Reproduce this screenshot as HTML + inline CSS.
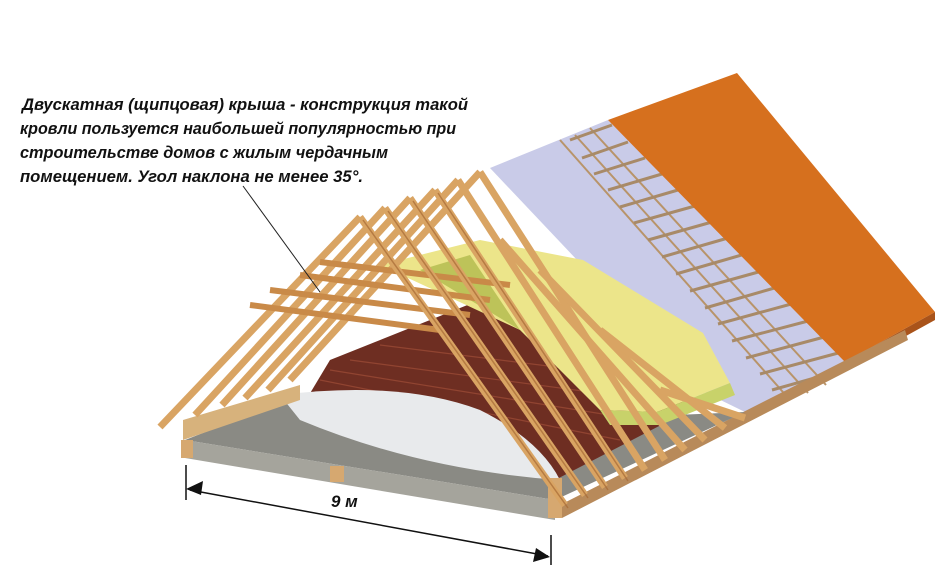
<!DOCTYPE html>
<html><head><meta charset="utf-8"><style>
html,body{margin:0;padding:0;background:#fff;width:947px;height:580px;overflow:hidden}
svg{display:block}
text{font-family:"Liberation Sans",sans-serif;font-weight:bold;font-style:italic;fill:#111}
</style></head><body>
<svg width="947" height="580" viewBox="0 0 947 580" xmlns="http://www.w3.org/2000/svg">
<!-- lavender membrane -->
<polygon points="490,168 608,120 850,362 770,405 745,412 700,390" fill="#c9cbe8"/>
<!-- grid laths -->
<g stroke="#b8946a" stroke-width="2">
<line x1="560" y1="140" x2="790" y2="400"/><line x1="575" y1="135" x2="808" y2="393"/><line x1="590" y1="128" x2="826" y2="385"/>
</g>
<g stroke="#a88a68" stroke-width="3">
<line x1="570" y1="140" x2="612" y2="125"/><line x1="582" y1="158" x2="628" y2="142"/><line x1="594" y1="174" x2="645" y2="158"/>
<line x1="608" y1="190" x2="662" y2="174"/><line x1="620" y1="207" x2="678" y2="190"/><line x1="634" y1="223" x2="695" y2="206"/>
<line x1="648" y1="240" x2="712" y2="222"/><line x1="662" y1="257" x2="728" y2="238"/><line x1="676" y1="274" x2="745" y2="254"/>
<line x1="690" y1="291" x2="762" y2="271"/><line x1="705" y1="308" x2="778" y2="287"/><line x1="718" y1="324" x2="795" y2="303"/>
<line x1="732" y1="341" x2="812" y2="320"/><line x1="746" y1="358" x2="828" y2="336"/><line x1="760" y1="374" x2="842" y2="352"/>
<line x1="772" y1="390" x2="850" y2="368"/>
</g>
<!-- orange roofing -->
<polygon points="608,120 737,73 935,312 845,362" fill="#d6701e"/>
<polygon points="845,362 935,312 935,320 848,368" fill="#a9531a"/>
<!-- eave board -->
<polygon points="560,505 905,330 908,340 562,518" fill="#b88a5a"/>
<!-- slab -->
<polygon points="185,440 300,395 560,420 745,412 555,500" fill="#8a8a84"/>
<polygon points="185,440 555,500 555,520 185,458" fill="#a5a49c"/>
<!-- dark attic interior -->
<polygon points="330,360 480,300 600,300 690,410 555,480 300,410" fill="#6e2e22"/>
<g stroke="#9a4a35" stroke-width="1.2" opacity=".8">
<line x1="320" y1="380" x2="620" y2="440"/><line x1="330" y1="370" x2="640" y2="420"/><line x1="350" y1="360" x2="650" y2="400"/><line x1="380" y1="345" x2="660" y2="380"/>
</g>
<!-- white foil -->
<path d="M280,395 Q400,380 480,410 Q540,440 560,480 Q420,470 300,420 Z" fill="#e8eaec"/>
<!-- yellow insulation -->
<polygon points="380,265 480,240 583,260 703,333 730,383 657,412 600,410 520,330" fill="#ece58a"/>
<polygon points="600,410 657,412 730,383 735,395 660,425 610,425" fill="#c8d26a"/>
<polygon points="420,270 470,255 520,330 470,300" fill="#a9b545" opacity=".7"/>
<!-- brick walls -->
<polygon points="183,420 300,385 300,400 183,440" fill="#d7b27c"/>
<rect x="181" y="440" width="12" height="18" fill="#d6a870"/>
<rect x="330" y="466" width="14" height="16" fill="#d6a870"/>
<rect x="548" y="478" width="14" height="40" fill="#d6a870"/>
<!-- rafters -->
<g stroke="#d9a463" stroke-width="7" stroke-linecap="butt">
<line x1="480" y1="172" x2="290" y2="380"/><line x1="458" y1="180" x2="268" y2="390"/>
<line x1="435" y1="190" x2="245" y2="398"/><line x1="410" y1="198" x2="222" y2="405"/>
<line x1="385" y1="208" x2="195" y2="415"/><line x1="360" y1="217" x2="160" y2="427"/>
</g>
<g stroke="#c98a48" stroke-width="6">
<line x1="250" y1="305" x2="440" y2="330"/><line x1="270" y1="290" x2="470" y2="315"/><line x1="300" y1="275" x2="490" y2="300"/><line x1="320" y1="262" x2="510" y2="285"/>
</g>
<g stroke="#d9a463" stroke-width="7">
<line x1="360" y1="217" x2="565" y2="505"/><line x1="385" y1="208" x2="585" y2="495"/>
<line x1="410" y1="198" x2="605" y2="487"/><line x1="435" y1="190" x2="625" y2="478"/>
<line x1="458" y1="180" x2="645" y2="470"/><line x1="480" y1="172" x2="665" y2="460"/>
<line x1="500" y1="240" x2="685" y2="450"/><line x1="540" y1="270" x2="705" y2="440"/>
<line x1="600" y1="330" x2="725" y2="428"/><line x1="660" y1="390" x2="745" y2="418"/>
</g>
<g stroke="#a86a35" stroke-width="1.5" opacity=".7">
<line x1="363" y1="220" x2="568" y2="508"/><line x1="388" y1="211" x2="588" y2="498"/><line x1="413" y1="201" x2="608" y2="490"/><line x1="438" y1="193" x2="628" y2="481"/>
</g>
<!-- pointer line -->
<line x1="243" y1="186" x2="320" y2="292" stroke="#222" stroke-width="1"/>
<!-- dimension -->
<g stroke="#111" stroke-width="1.5">
<line x1="186" y1="465" x2="186" y2="500"/><line x1="551" y1="535" x2="551" y2="565"/>
<line x1="190" y1="490" x2="548" y2="556"/>
</g>
<polygon points="186,489 203,481 201,495" fill="#111"/>
<polygon points="550,557 533,562 536,548" fill="#111"/>
<text x="331" y="507" font-size="17">9 м</text>
<!-- caption -->
<text x="22" y="110" font-size="17" textLength="446" lengthAdjust="spacingAndGlyphs">Двускатная (щипцовая) крыша - конструкция такой</text>
<text x="20" y="134" font-size="17" textLength="436" lengthAdjust="spacingAndGlyphs">кровли пользуется наибольшей популярностью при</text>
<text x="20" y="158" font-size="17" textLength="368" lengthAdjust="spacingAndGlyphs">строительстве домов с жилым чердачным</text>
<text x="20" y="182" font-size="17" textLength="343" lengthAdjust="spacingAndGlyphs">помещением. Угол наклона не менее 35°.</text>
</svg>
</body></html>
